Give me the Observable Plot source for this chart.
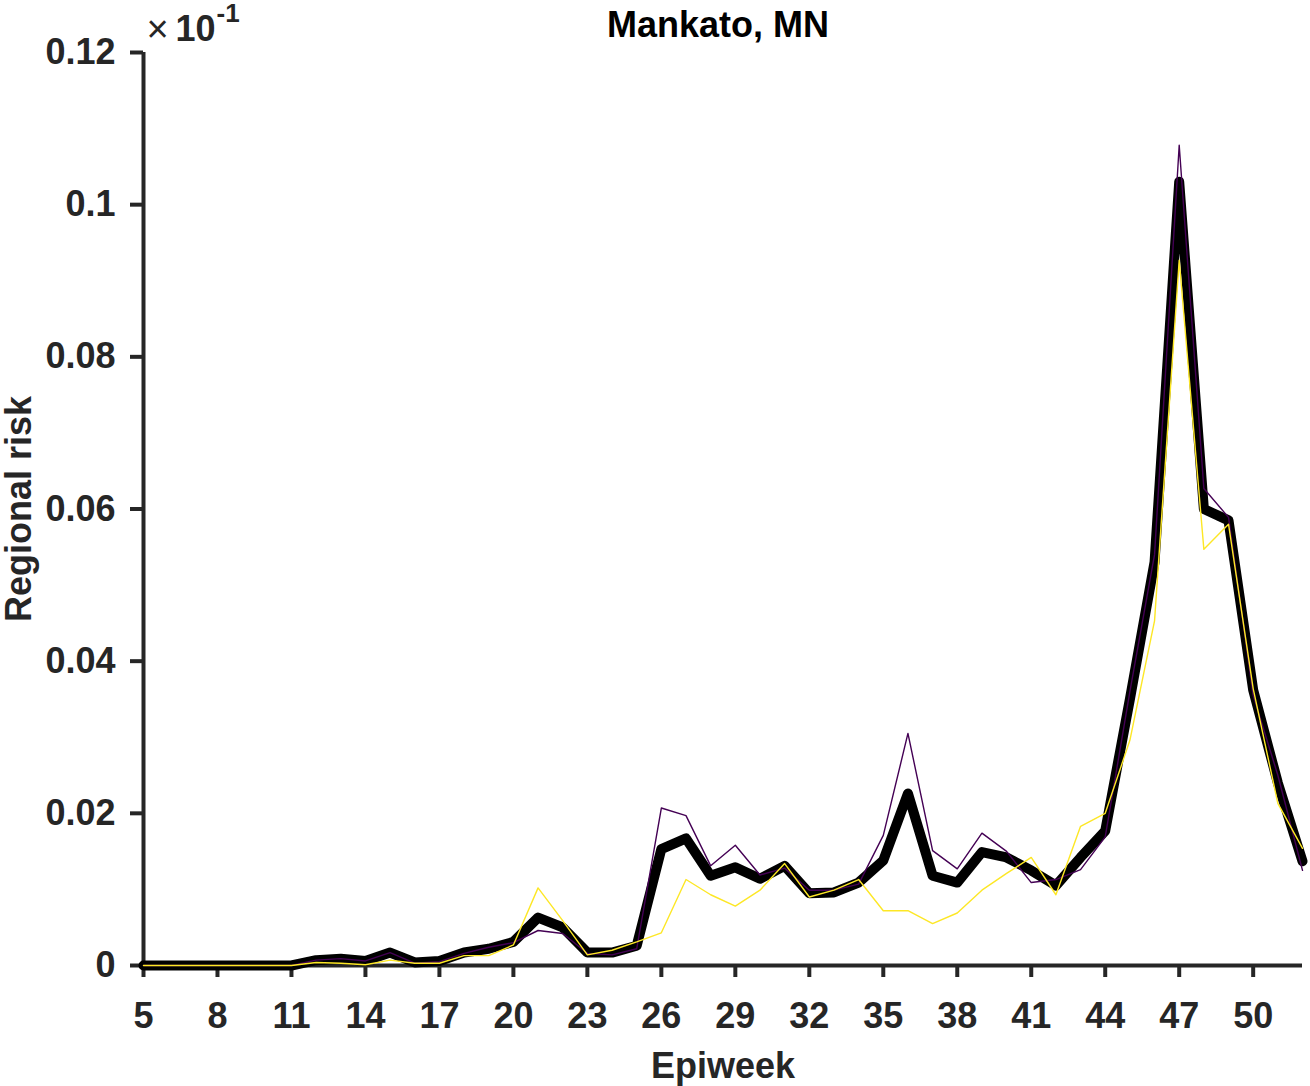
<!DOCTYPE html>
<html>
<head>
<meta charset="utf-8">
<script src="https://cdn.jsdelivr.net/npm/d3@7"></script>
<script src="https://cdn.jsdelivr.net/npm/@observablehq/plot@0.6"></script>
<style>
  html, body { margin: 0; padding: 0; background: #fff; }
  #chart svg { display: block; }
</style>
</head>
<body>
<div id="chart"></div>
<script>
const weeks = d3.range(5, 53);

const meanRisk = [
  0, 0, 0, 0, 0, 0, 0,
  0.0007, 0.0009, 0.0006, 0.0017, 0.0004, 0.0006, 0.0017, 0.0022, 0.0031,
  0.0063, 0.0050, 0.0017, 0.0017, 0.0026, 0.0153, 0.0167, 0.0118, 0.0129,
  0.0114, 0.0131, 0.0095, 0.0096, 0.0109, 0.0138, 0.0226, 0.0118, 0.0109,
  0.0149, 0.0142, 0.0125, 0.0105, 0.0142, 0.0177, 0.0350, 0.0530, 0.1030,
  0.0600, 0.0585, 0.0362, 0.0240, 0.0137
];

const purpleRisk = [
  0, 0, 0, 0, 0, 0, 0,
  0.0007, 0.0009, 0.0006, 0.0017, 0.0003, 0.0005, 0.0016, 0.0024, 0.0030,
  0.0046, 0.0042, 0.0016, 0.0014, 0.0022, 0.0207, 0.0197, 0.0131, 0.0158,
  0.0119, 0.0128, 0.0099, 0.0099, 0.0107, 0.0171, 0.0305, 0.0151, 0.0127,
  0.0174, 0.0150, 0.0109, 0.0113, 0.0126, 0.0169, 0.0360, 0.0540, 0.1078,
  0.0627, 0.0589, 0.0355, 0.0250, 0.0125
];

const yellowRisk = [
  0, 0, 0, 0, 0, 0, 0,
  0.0004, 0.0003, 0.0001, 0.0007, 0.0003, 0.0003, 0.0013, 0.0013, 0.0027,
  0.0102, 0.0059, 0.0014, 0.0020, 0.0031, 0.0043, 0.0113, 0.0093, 0.0078,
  0.0099, 0.0134, 0.0090, 0.0099, 0.0113, 0.0072, 0.0072, 0.0055, 0.0069,
  0.0099, 0.0121, 0.0142, 0.0093, 0.0183, 0.0200, 0.0296, 0.0453, 0.0927,
  0.0547, 0.0580, 0.0364, 0.0213, 0.0154
];

const xTicks = [5, 8, 11, 14, 17, 20, 23, 26, 29, 32, 35, 38, 41, 44, 47, 50];
const yTicks = [0, 0.02, 0.04, 0.06, 0.08, 0.1, 0.12];
const yTickLabels = ["0", "0.02", "0.04", "0.06", "0.08", "0.1", "0.12"];

const toRows = (vals) => weeks.map((w, i) => ({week: w, value: vals[i]}));
const meanRows = toRows(meanRisk);
const purpleRows = toRows(purpleRisk);
const yellowRows = toRows(yellowRisk);

const FONT = "'Liberation Sans', Arial, Helvetica, sans-serif";
const AX = "#262626";

const chart = Plot.plot({
  width: 1310,
  height: 1086,
  marginLeft: 143,
  marginRight: 8,
  marginTop: 52,
  marginBottom: 121,
  style: {fontFamily: FONT, fontSize: "36px", fontWeight: "bold", background: "#fff", overflow: "visible"},
  x: {domain: [5, 52], label: null},
  y: {domain: [0, 0.12], label: null},
  marks: [
    Plot.axisX({ticks: xTicks, tickSize: 12, tickPadding: 25, strokeWidth: 4, color: AX,
      fontSize: 36, fontWeight: "bold", fontFamily: FONT, label: null}),
    Plot.axisY({ticks: yTicks, tickFormat: (d, i) => yTickLabels[i], tickSize: 13, tickPadding: 15,
      strokeWidth: 4, color: AX, fontSize: 36, fontWeight: "bold", fontFamily: FONT, label: null}),
    Plot.ruleY([0], {stroke: AX, strokeWidth: 4}),
    Plot.ruleX([5], {stroke: AX, strokeWidth: 4}),
    Plot.line(meanRows, {x: "week", y: "value", stroke: "#000", strokeWidth: 10, strokeLinejoin: "round"}),
    Plot.line(purpleRows, {x: "week", y: "value", stroke: "#440154", strokeWidth: 1.4}),
    Plot.line(yellowRows, {x: "week", y: "value", stroke: "#FDE725", strokeWidth: 1.4}),
    Plot.text(["Mankato, MN"], {frameAnchor: "top", dx: -5, dy: -16, lineAnchor: "bottom", fill: "#000",
      fontSize: 36, fontWeight: "bold", fontFamily: FONT}),
    Plot.text(["Epiweek"], {frameAnchor: "bottom", dy: 112, lineAnchor: "bottom", fill: AX,
      fontSize: 36, fontWeight: "bold", fontFamily: FONT}),
    Plot.text(["Regional risk"], {frameAnchor: "left", dx: -113, rotate: -90, textAnchor: "middle",
      lineAnchor: "bottom", fill: AX, fontSize: 36, fontWeight: "bold", fontFamily: FONT}),
    Plot.text(["\u00d7"], {frameAnchor: "top-left", dx: 3, dy: -11, textAnchor: "start", lineAnchor: "bottom",
      fill: AX, fontSize: 38, fontWeight: "normal", fontFamily: FONT}),
    Plot.text(["10"], {frameAnchor: "top-left", dx: 32, dy: -12, textAnchor: "start", lineAnchor: "bottom",
      fill: AX, fontSize: 36, fontWeight: "bold", fontFamily: FONT}),
    Plot.text(["-1"], {frameAnchor: "top-left", dx: 73, dy: -31, textAnchor: "start", lineAnchor: "bottom",
      fill: AX, fontSize: 26, fontWeight: "bold", fontFamily: FONT})
  ]
});

document.getElementById("chart").appendChild(chart);
</script>
</body>
</html>
